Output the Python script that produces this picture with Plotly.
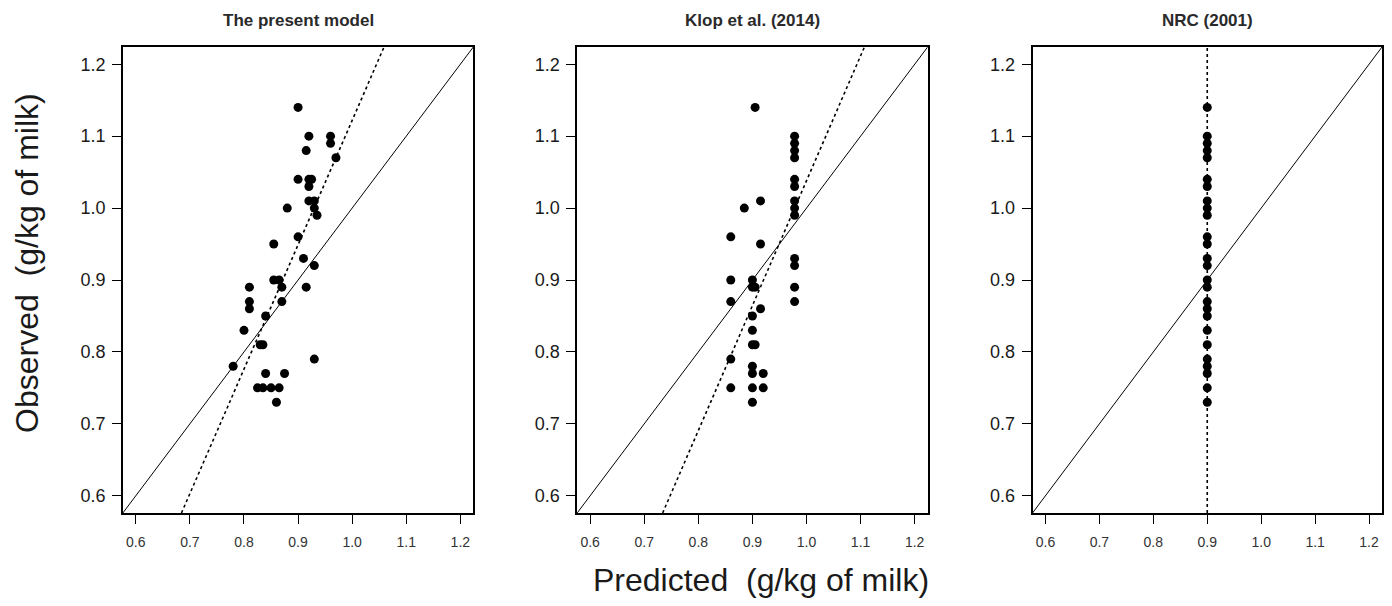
import plotly.graph_objects as go

# ---------------- data ----------------
panel_titles = ["The present model", "Klop et al. (2014)", "NRC (2001)"]
tick_vals = [0.6, 0.7, 0.8, 0.9, 1.0, 1.1, 1.2]
tick_text = ["0.6", "0.7", "0.8", "0.9", "1.0", "1.1", "1.2"]
axis_range = [0.576, 1.224]

# Panel 1: the present model
pred_present = [0.90, 0.92, 0.96, 0.96, 0.915, 0.97, 0.90, 0.92, 0.925, 0.92,
                0.92, 0.93, 0.88, 0.93, 0.935, 0.90, 0.855, 0.91, 0.93, 0.855,
                0.865, 0.87, 0.81, 0.915, 0.81, 0.81, 0.87, 0.84, 0.80, 0.83,
                0.835, 0.93, 0.78, 0.84, 0.875, 0.825, 0.835, 0.85, 0.865, 0.86]
obs_present = [1.14, 1.10, 1.10, 1.09, 1.08, 1.07, 1.04, 1.04, 1.04, 1.03,
               1.01, 1.01, 1.00, 1.00, 0.99, 0.96, 0.95, 0.93, 0.92, 0.90,
               0.90, 0.89, 0.89, 0.89, 0.87, 0.86, 0.87, 0.85, 0.83, 0.81,
               0.81, 0.79, 0.78, 0.77, 0.77, 0.75, 0.75, 0.75, 0.75, 0.73]

# Panel 2: Klop et al. (2014)
pred_klop = [0.978, 0.978, 0.978, 0.978, 0.978, 0.978, 0.978, 0.978, 0.978,
             0.978, 0.978, 0.978, 0.978,
             0.905, 0.885, 0.915, 0.86, 0.915, 0.86, 0.90, 0.905, 0.90, 0.86,
             0.915, 0.90, 0.90, 0.90, 0.905, 0.86, 0.90, 0.90, 0.92, 0.86,
             0.90, 0.92, 0.90]
obs_klop = [1.10, 1.09, 1.08, 1.07, 1.04, 1.03, 1.01, 1.00, 0.99,
            0.93, 0.92, 0.89, 0.87,
            1.14, 1.00, 1.01, 0.96, 0.95, 0.90, 0.90, 0.89, 0.89, 0.87,
            0.86, 0.85, 0.83, 0.81, 0.81, 0.79, 0.78, 0.77, 0.77, 0.75,
            0.75, 0.75, 0.73]

# Panel 3: NRC (2001) - constant prediction
nrc_pred_value = 0.90
obs_nrc = [1.14, 1.10, 1.09, 1.08, 1.07, 1.04, 1.03, 1.01, 1.00, 0.99,
           0.96, 0.95, 0.93, 0.92, 0.90, 0.89, 0.87, 0.86, 0.85, 0.83,
           0.81, 0.79, 0.78, 0.77, 0.75, 0.73]

# regression (dotted) lines: slope, intercept
reg_present = (1.73, -0.608)
reg_klop = (1.737, -0.699)

# ---------------- figure ----------------
# page body has an 8px margin, so the figure is drawn 8px in from the top-left
OFF = 8
W, H = 1392 - 2 * OFF, 606 - 2 * OFF


def px_x(p):
    return (p - OFF) / W


def px_y(p):
    return 1 - (p - OFF) / H


x_domains = [[px_x(123), px_x(474)], [px_x(578), px_x(929)], [px_x(1034), px_x(1384)]]
y_domain = [px_y(513), px_y(47)]

fig = go.Figure()
marker = dict(color="black", size=9, line=dict(width=0))
ink = "#1a1a1a"


def add_panel(i, xs, ys, reg=None, vline=None):
    xa = "x" if i == 0 else f"x{i+1}"
    ya = "y" if i == 0 else f"y{i+1}"
    fig.add_trace(go.Scatter(x=axis_range, y=axis_range, mode="lines",
                             line=dict(color="black", width=1),
                             xaxis=xa, yaxis=ya, showlegend=False, hoverinfo="skip"))
    if reg is not None:
        b, a = reg
        x0 = max(axis_range[0], (axis_range[0] - a) / b)
        x1 = min(axis_range[1], (axis_range[1] - a) / b)
        fig.add_trace(go.Scatter(x=[x0, x1], y=[a + b * x0, a + b * x1], mode="lines",
                                 line=dict(color="black", width=1.6, dash="dot"),
                                 xaxis=xa, yaxis=ya, showlegend=False, hoverinfo="skip"))
    if vline is not None:
        fig.add_trace(go.Scatter(x=[vline, vline], y=axis_range, mode="lines",
                                 line=dict(color="black", width=1.6, dash="dot"),
                                 xaxis=xa, yaxis=ya, showlegend=False, hoverinfo="skip"))
    fig.add_trace(go.Scatter(x=xs, y=ys, mode="markers", marker=marker,
                             xaxis=xa, yaxis=ya, showlegend=False))


add_panel(0, pred_present, obs_present, reg=reg_present)
add_panel(1, pred_klop, obs_klop, reg=reg_klop)
add_panel(2, [nrc_pred_value] * len(obs_nrc), obs_nrc, vline=nrc_pred_value)

layout = dict(
    width=W, height=H,
    margin=dict(l=0, r=0, t=0, b=0),
    paper_bgcolor="white", plot_bgcolor="white",
    font=dict(family="Liberation Sans, Arial, sans-serif", color=ink),
)
for i in range(3):
    sx = "" if i == 0 else str(i + 1)
    layout[f"xaxis{sx}"] = dict(
        domain=x_domains[i], range=axis_range, anchor=f"y{sx}",
        tickvals=tick_vals, ticktext=tick_text, ticks="outside", ticklen=9,
        tickwidth=1.3, tickcolor="black", showgrid=False, zeroline=False,
        showline=True, linecolor="black", linewidth=1.6, mirror=True,
        ticklabelstandoff=6,
        tickfont=dict(size=14, color="#333333"),
    )
    layout[f"yaxis{sx}"] = dict(
        domain=y_domain, range=axis_range, anchor=f"x{sx}",
        tickvals=tick_vals, ticktext=tick_text, ticks="outside", ticklen=9,
        tickwidth=1.3, tickcolor="black", showgrid=False, zeroline=False,
        showline=True, linecolor="black", linewidth=1.6, mirror=True,
        ticklabelstandoff=3,
        tickfont=dict(size=18, color=ink),
    )
fig.update_layout(**layout)

annotations = []
for i, t in enumerate(panel_titles):
    cx = (x_domains[i][0] + x_domains[i][1]) / 2
    annotations.append(dict(text=f"<b>{t}</b>", x=cx, y=px_y(21), xref="paper",
                            yref="paper", showarrow=False, xanchor="center",
                            yanchor="middle", font=dict(size=17, color="#2a2a2a")))
annotations.append(dict(text="Predicted\u00a0 (g/kg of milk)", x=px_x(762), y=px_y(580),
                        xref="paper", yref="paper", showarrow=False, xanchor="center",
                        yanchor="middle", font=dict(size=32, color=ink)))
annotations.append(dict(text="Observed\u00a0 (g/kg of milk)", x=px_x(27), y=px_y(263),
                        xref="paper", yref="paper", showarrow=False, xanchor="center",
                        yanchor="middle", textangle=-90, font=dict(size=32, color=ink)))
fig.update_layout(annotations=annotations)

fig.write_html("out.html")
